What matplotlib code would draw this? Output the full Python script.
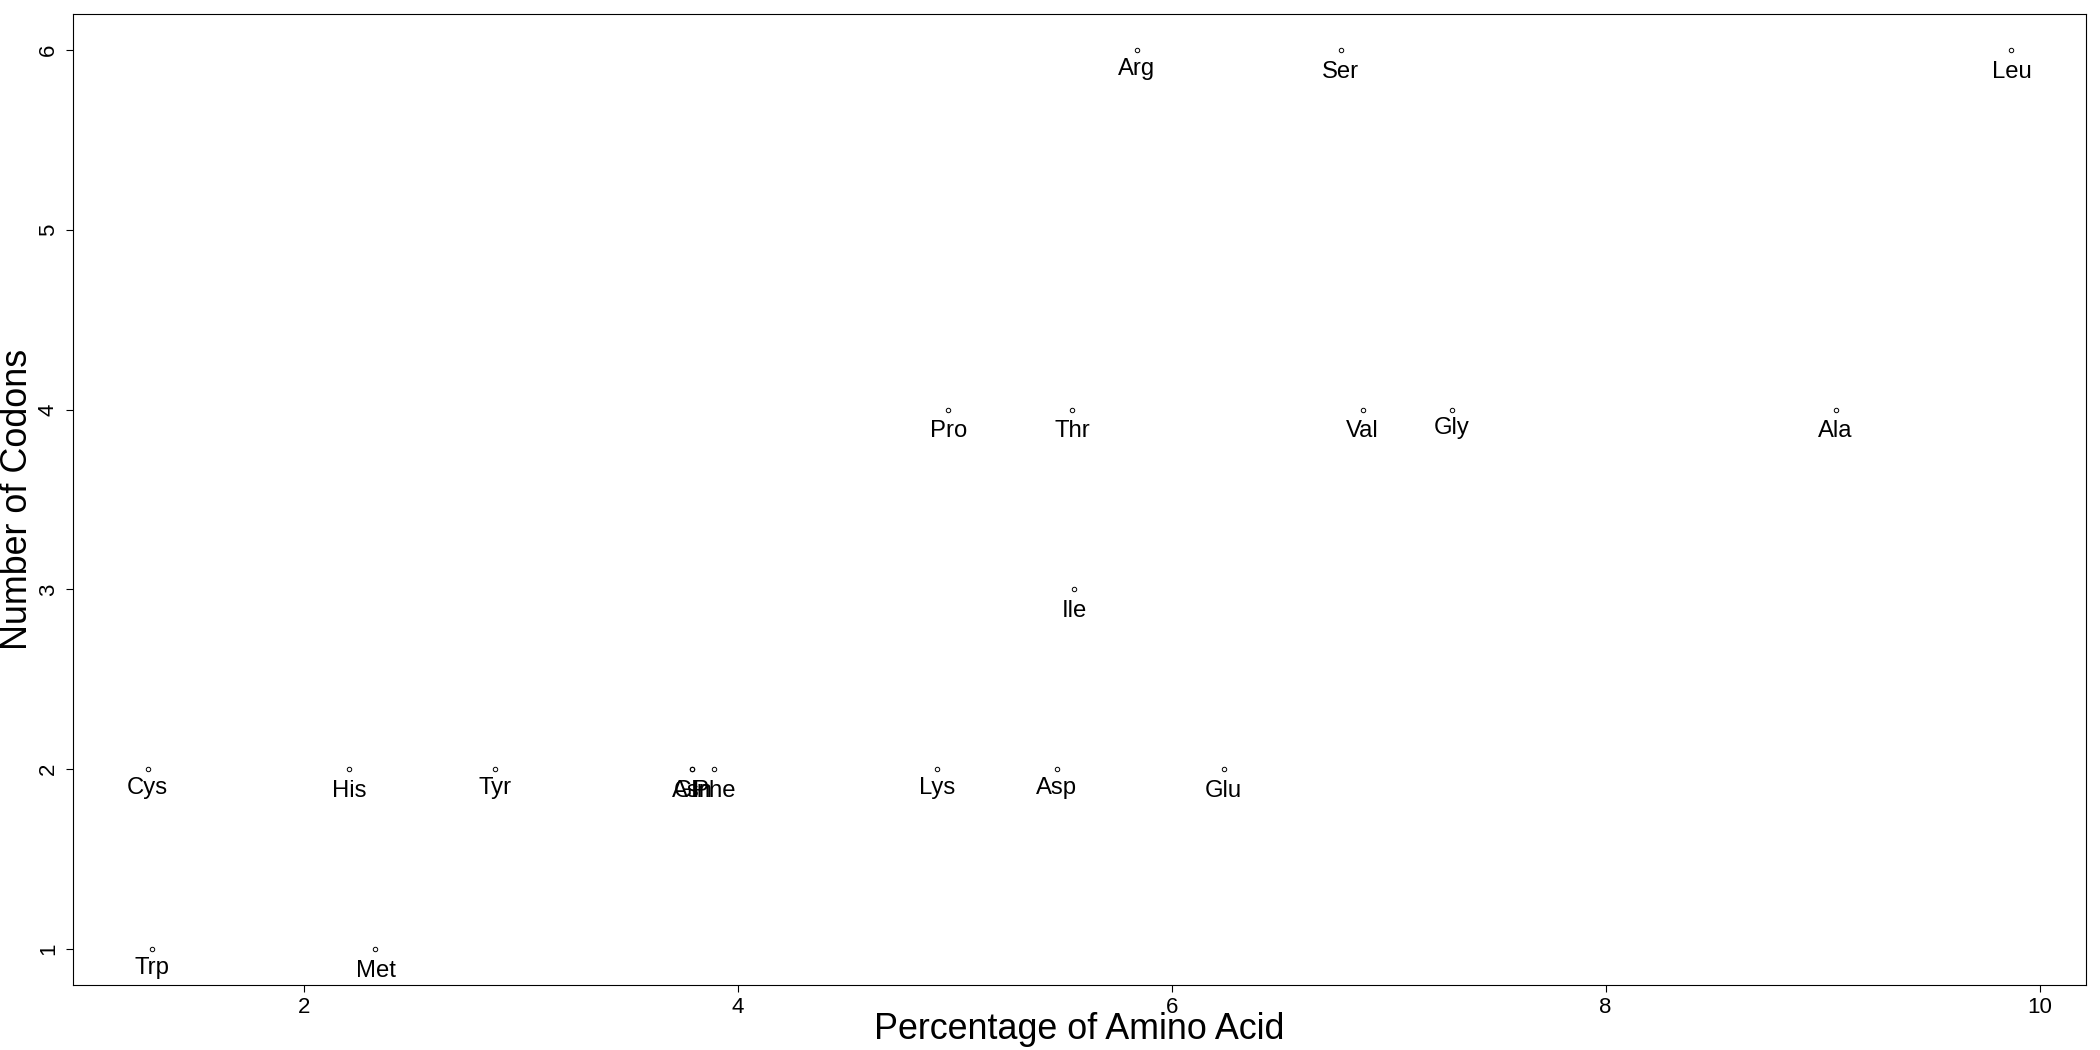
import matplotlib
matplotlib.use('Agg')
import matplotlib.pyplot as plt

plt.rcParams['font.family'] = ['Liberation Sans', 'DejaVu Sans']

amino_acids = ['Ala', 'Arg', 'Asn', 'Asp', 'Cys', 'Gln', 'Glu', 'Gly', 'His', 'Ile',
               'Leu', 'Lys', 'Met', 'Phe', 'Pro', 'Ser', 'Thr', 'Trp', 'Tyr', 'Val']
percentage = [9.06, 5.84, 3.79, 5.47, 1.28, 3.79, 6.24, 7.29, 2.21, 5.55,
              9.87, 4.92, 2.33, 3.89, 4.97, 6.78, 5.54, 1.30, 2.88, 6.88]
n_codons = [4, 6, 2, 2, 2, 2, 2, 4, 2, 3,
            6, 2, 1, 2, 4, 6, 4, 1, 2, 4]

fig = plt.figure(figsize=(21, 10.5), dpi=100)
ax = fig.add_axes([0.0348, 0.0619, 0.9585, 0.9248])

ax.plot(percentage, n_codons, 'o', mfc='none', mec='black', ms=3.2, mew=0.7)

for name, x, y in zip(amino_acids, percentage, n_codons):
    # R's pos=1 centres the glyph box, so labels with descenders sit a bit higher
    off = -17.8 if any(c in 'gpqy' for c in name) else -20.0
    ax.annotate(name, (x, y), xytext=(0, off), textcoords='offset points',
                ha='center', va='baseline', fontsize=17.2)

xr = max(percentage) - min(percentage)
ax.set_xlim(min(percentage) - 0.04 * xr, max(percentage) + 0.04 * xr)
ax.set_ylim(0.8, 6.2)
ax.set_xticks([2, 4, 6, 8, 10])
ax.set_yticks([1, 2, 3, 4, 5, 6])

ax.tick_params(axis='both', direction='out', length=5.3, width=0.8, labelsize=16)
ax.tick_params(axis='x', pad=3.5)
ax.tick_params(axis='y', pad=5, labelrotation=90)
for lab in ax.get_yticklabels():
    lab.set_va('center')

for s in ax.spines.values():
    s.set_linewidth(0.8)

ax.set_xlabel('Percentage of Amino Acid', fontsize=25.8, va='baseline')
ax.xaxis.set_label_coords(0.5, -0.0556)
ax.set_ylabel('Number of Codons', fontsize=25.8, va='baseline')
ax.yaxis.set_label_coords(-0.0229, 0.5)

fig.savefig('out.png', dpi=100)
